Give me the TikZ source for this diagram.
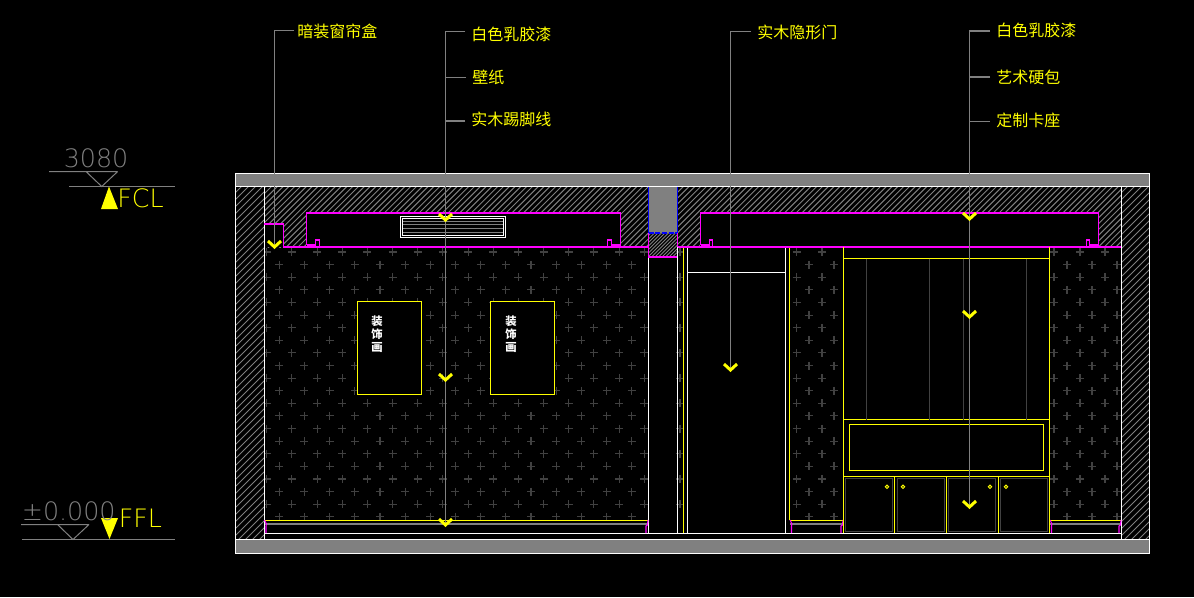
\documentclass[tikz,border=0pt]{standalone}
\usepackage{fontspec}
\setmainfont{Liberation Sans}
\newfontfamily\cjk{Noto Sans CJK SC}
\newfontfamily\thin{DejaVu Sans ExtraLight}
\definecolor{cad}{HTML}{FFFF00}
\definecolor{mag}{HTML}{FF00FF}
\definecolor{gr}{HTML}{808080}
\definecolor{dk}{HTML}{414141}
\definecolor{blu}{HTML}{0000FF}
\tikzset{
  wl/.style={draw=white,line width=.8pt},
  yl/.style={draw=cad,line width=.9pt},
  mg/.style={draw=mag,line width=.62pt},
  gl/.style={draw=gr,line width=.6pt},
  dl/.style={draw=dk,line width=.8pt},
  leader/.style={draw=gr,line width=.72pt,shorten <=3.6pt},
  chev/.style={draw=cad,line width=1.8pt,line cap=butt},
  plusmark/.style={draw=dk,line width=.62pt},
  tag/.style={text=cad,inner sep=0pt,anchor=west,text height=7.2pt,text depth=0pt,font=\cjk\fontsize{9.6pt}{9.6pt}\selectfont},
  pic text/.style={text=white,inner sep=0pt,font=\cjk\bfseries\fontsize{6.8pt}{6.8pt}\selectfont},
  lev/.style={inner sep=0pt,anchor=base west,font=\thin\fontsize{15.2pt}{15.2pt}\selectfont}
}
\newcommand{\chevron}[1]{\draw[chev] ([shift={(-6.5,-6)}]#1) -- (#1) -- ([shift={(6.5,-6)}]#1);}
\newcommand{\hatch}[3]{% first, second, last offset of the 45 deg lines
  \foreach \c in {#1,#2,...,#3} {\draw[gl] (\c,600) -- ++(500,-500);}}
\newcommand{\skirt}[2]{%
  \draw[yl] (#1,520.5) -- (#2,520.5);
  \draw[draw=gr,line width=1.2pt] (#1,523.5) -- (#2,523.5);
  \draw[mg] (#1,520) -- (#1+2,524) -- (#1+1.5,526) -- (#1+1.5,533);
  \draw[mg] (#2,520) -- (#2-.5,525) -- (#2-2,526) -- (#2-2,533);
}
\begin{document}
\begin{tikzpicture}[x=.6pt,y=-.6pt]
\useasboundingbox (0,0) rectangle (1194,597);
\fill[black] (0,0) rectangle (1194,597);

% ---------- hatching
\begin{scope}
  \clip (236,186) rectangle (264,539);
  \hatch{-200}{-193}{220}
\end{scope}
\begin{scope}
  \clip (1121,186) rectangle (1149,539);
  \hatch{700}{707}{1100}
\end{scope}
\begin{scope}
  \clip (264,186) rectangle (1121,247);
  \hatch{-200}{-194.2}{800}
\end{scope}
\begin{scope}
  \clip (649,233) rectangle (677,257);
  \fill[black] (649,233) rectangle (677,257);
  \hatch{270}{273.5}{340}
\end{scope}

% ---------- pockets in the ceiling
\fill[black] (264,224) rectangle (283,247);
\fill[black] (306,213) rectangle (620,247);
\fill[black] (700,213) rectangle (1098,247);

% ---------- wallpaper
\begin{scope}
  \clip (264,248) rectangle (648,520);
  \foreach \k in {0,...,10} {
    \pgfmathsetmacro{\ya}{252+25.22*\k}
    \pgfmathsetmacro{\yb}{\ya+12.61}
    \foreach \j in {0,...,15} {
      \pgfmathsetmacro{\xa}{266.7+25.17*\j}
      \pgfmathsetmacro{\xb}{279.3+25.17*\j}
      \draw[plusmark] (\xa-4,\ya) -- (\xa+4,\ya) (\xa,\ya-4) -- (\xa,\ya+4);
      \draw[plusmark] (\xb-4,\yb) -- (\xb+4,\yb) (\xb,\yb-4) -- (\xb,\yb+4);
    }
  }
\end{scope}
\begin{scope}
  \clip (790,248) rectangle (843,520);
  \foreach \k in {0,...,10} {
    \pgfmathsetmacro{\ya}{252+25.22*\k}
    \pgfmathsetmacro{\yb}{\ya+12.61}
    \foreach \x in {796.7,822,847} {\draw[plusmark] (\x-4,\ya) -- (\x+4,\ya) (\x,\ya-4) -- (\x,\ya+4);}
    \foreach \x in {809,834} {\draw[plusmark] (\x-4,\yb) -- (\x+4,\yb) (\x,\yb-4) -- (\x,\yb+4);}
  }
\end{scope}
\begin{scope}
  \clip (1050,248) rectangle (1121,520);
  \foreach \k in {0,...,10} {
    \pgfmathsetmacro{\ya}{252+25.22*\k}
    \pgfmathsetmacro{\yb}{\ya+12.61}
    \foreach \x in {1054,1080,1105} {\draw[plusmark] (\x-4,\ya) -- (\x+4,\ya) (\x,\ya-4) -- (\x,\ya+4);}
    \foreach \x in {1067,1092,1117} {\draw[plusmark] (\x-4,\yb) -- (\x+4,\yb) (\x,\yb-4) -- (\x,\yb+4);}
  }
\end{scope}
\foreach \k in {0,...,10} {
  \pgfmathsetmacro{\ya}{252+25.22*\k}
  \draw[plusmark] (676,\ya) -- (684,\ya) (680,\ya-4) -- (680,\ya+4);
}

% ---------- slabs and walls
\fill[gr] (236,174) rectangle (1149,186);
\fill[gr] (236,539) rectangle (1149,553);
\draw[wl] (235.5,173.5) rectangle (1149.5,553.5);
\draw[wl] (236,186.5) -- (1149,186.5);
\draw[wl] (236,539.5) -- (1149,539.5);
\draw[wl] (264.5,186) -- (264.5,539);
\draw[wl] (1121.5,186) -- (1121.5,539);
\draw[wl] (264,533.5) -- (1121,533.5);

% ---------- column
\fill[gr] (649,187) rectangle (677,233);
\draw[draw=blu,line width=.72pt] (648.5,186.5) -- (648.5,233) (677.5,186.5) -- (677.5,233);
\draw[draw=blu,line width=.72pt,dash pattern=on 3pt off 1pt] (648.5,233) -- (677.5,233);
\draw[mg] (648.5,233) -- (648.5,257) -- (677.5,257) -- (677.5,233);

% ---------- door and strips
\draw[wl] (648.5,257.5) -- (648.5,533);
\draw[wl] (677.5,247) -- (677.5,533);
\draw[yl] (683.5,247) -- (683.5,533);
\draw[wl] (687.5,247) -- (687.5,533);
\draw[wl] (785.5,247) -- (785.5,533);
\draw[wl] (687.5,272.5) -- (785.5,272.5);
\draw[yl] (789.5,247) -- (789.5,520);

% ---------- magenta ceiling lines
\draw[mg] (264,224) -- (283.5,224) -- (283.5,247) -- (648.5,247);
\draw[mg] (677.5,247) -- (1121,247);
\draw[mg] (315.5,247) -- (315.5,240) -- (319.5,240) -- (319.5,247);
\draw[mg] (306.5,245) -- (306.5,213) -- (620.5,213) -- (620.5,245) -- (611.5,245);
\draw[mg] (306.5,245) -- (315.5,245);
\draw[mg] (607.5,247) -- (607.5,240) -- (611.5,240) -- (611.5,247);
\draw[mg] (700.5,245) -- (700.5,213) -- (1098.5,213) -- (1098.5,245) -- (1089.5,245);
\draw[mg] (700.5,245) -- (709.5,245);
\draw[mg] (709.5,247) -- (709.5,240) -- (712.5,240) -- (712.5,247);
\draw[mg] (1086.5,247) -- (1086.5,240) -- (1089.5,240) -- (1089.5,247);

% ---------- vent
\draw[wl] (400.5,216.5) rectangle (505.5,237.5);
\draw[draw=white,line width=.5pt] (402.5,218.5) rectangle (503.5,235.5);
\foreach \y in {221.5,224.5,228.5,232.5} {\draw[gl] (403,\y) -- (503,\y);}

% ---------- pictures
\draw[yl,fill=black] (357.5,301.5) rectangle (421.5,394.5);
\draw[yl,fill=black] (490.5,301.5) rectangle (554.5,394.5);
\node[pic text] (p1a) at (377,321) {装};
\node[pic text] (p1b) at (377,334) {饰};
\node[pic text] (p1c) at (377,347) {画};
\node[pic text] (p2a) at (511,321) {装};
\node[pic text] (p2b) at (511,334) {饰};
\node[pic text] (p2c) at (511,347) {画};

% ---------- skirting
\skirt{264.5}{648}
\skirt{790}{843}
\skirt{1050}{1121}

% ---------- cabinet
\draw[yl] (843.5,247) -- (843.5,533);
\draw[yl] (1049.5,247) -- (1049.5,533);
\draw[yl] (843.5,258.5) -- (1049.5,258.5);
\draw[yl] (843.5,419.5) -- (1049.5,419.5);
\draw[yl] (843.5,476.5) -- (1049.5,476.5);
\foreach \x in {866.5,929.5,963.5,1026.5} {\draw[dl] (\x,258.5) -- (\x,419.5);}
\draw[yl] (849.5,424.5) rectangle (1043.5,470.5);
\foreach \x in {894.5,946.5,998.5} {\draw[yl] (\x,476.5) -- (\x,533);}
\draw[dl] (845.5,478.5) rectangle (892.5,531.5);
\draw[dl] (897.5,478.5) rectangle (944.5,531.5);
\draw[dl] (948.5,478.5) rectangle (995.5,531.5);
\draw[dl] (1000.5,478.5) rectangle (1047.5,531.5);
\foreach \x in {887,903,990,1006} {\draw[draw=cad,line width=.6pt] (\x,486.8) circle (1.7);}

% ---------- level marks
\draw[gl] (49,171.5) -- (117.7,171.5) (86,171.5) -- (101.7,186.5) -- (117.7,171.5);
\draw[gl] (69,186.5) -- (175,186.5);
\fill[cad] (101,209) -- (118,209) -- (109,186.5) -- cycle;
\node[lev,text=gr] (h1) at (63.5,167.5) {3080};
\node[lev,text=cad] (t1) at (117,207.8) {FCL};
\draw[gl] (21,524.5) -- (89,524.5) (57.5,524.5) -- (73,539.5) -- (89,524.5);
\draw[gl] (22,539.5) -- (175,539.5);
\fill[cad] (101,518) -- (118,518) -- (109.5,539) -- cycle;
\node[lev,text=gr] (h2) at (21.5,520.5) {±0.000};
\node[lev,text=cad] (t2) at (118.5,527.2) {FFL};

% ---------- labels
\node[tag] (n1) at (297,31) {暗装窗帘盒};
\node[tag] (n2) at (471,34) {白色乳胶漆};
\node[tag] (n3) at (472,77.5) {壁纸};
\node[tag] (n4) at (471,119.5) {实木踢脚线};
\node[tag] (n5) at (757,32) {实木隐形门};
\node[tag] (n6) at (996,30) {白色乳胶漆};
\node[tag] (n7) at (996,77) {艺术硬包};
\node[tag] (n8) at (996,120.7) {定制卡座};

% ---------- leader ends
\coordinate (a1) at (274.5,247);
\coordinate (a2) at (445.5,220);
\coordinate (a3) at (445.5,380);
\coordinate (a4) at (445.5,525);
\coordinate (a5) at (730.5,370);
\coordinate (a6) at (969.5,219);
\coordinate (a7) at (969.5,317);
\coordinate (a8) at (969.5,507);

\draw[leader,shorten <=1.8pt] ([yshift=.3pt]n1.west) -| (a1);
\draw[leader] ([yshift=1.5pt]n2.west) -| (a2);
\draw[leader] (n3.west) -| (a3);
\draw[leader] ([yshift=-.9pt]n4.west) -| (a4);
\draw[leader] ([yshift=.3pt]n5.west) -| (a5);
\draw[leader] ([yshift=-.6pt]n6.west) -| (a6);
\draw[leader] (n7.west) -| (a7);
\draw[leader] ([yshift=-.5pt]n8.west) -| (a8);

\chevron{a1}\chevron{a2}\chevron{a3}\chevron{a4}
\chevron{a5}\chevron{a6}\chevron{a7}\chevron{a8}
\end{tikzpicture}
\end{document}
